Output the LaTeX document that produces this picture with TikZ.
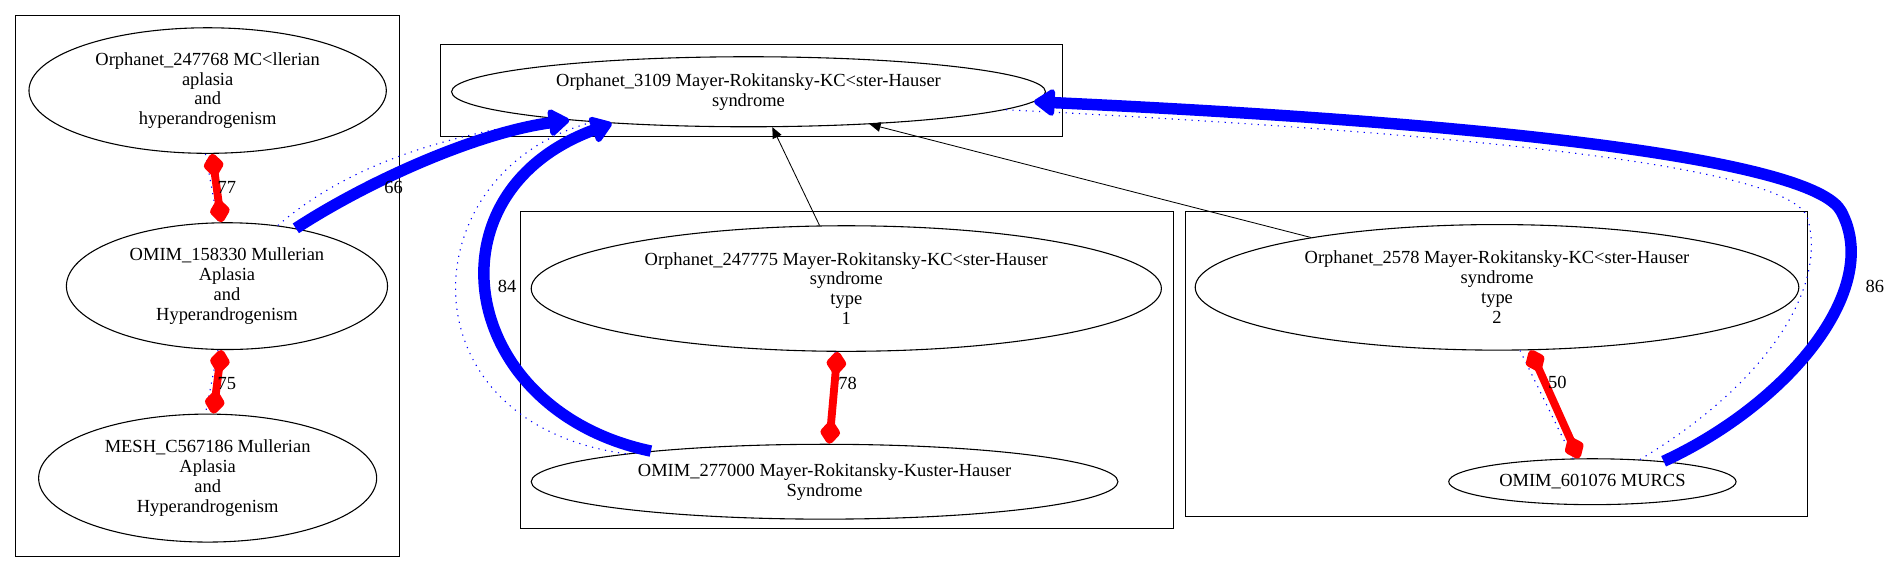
\documentclass[tikz,border=0pt]{standalone}
\usepackage{fontspec}
\setmainfont{Liberation Serif}
\usetikzlibrary{shapes.geometric,arrows.meta}

\begin{document}
\begin{tikzpicture}[x=1pt,y=-1pt,
    term/.style={ellipse, draw, line width=0.9pt, inner sep=0pt, align=center, font=\fontsize{15.3}{16.5}\selectfont},
    lbl/.style={inner sep=1pt, font=\fontsize{15.3}{16.5}\selectfont},
    mapped/.style={red, line width=6.5pt, line join=round, {Diamond[length=23pt,width=18pt,round]}-{Diamond[length=23pt,width=18pt,round]}},
    shared/.style={blue, line width=9.5pt, line join=round, -{Triangle[length=19pt,width=25pt,round]}},
    trace/.style={blue, line width=0.9pt, dash pattern=on 1pt off 4.5pt},
    isa/.style={line width=0.7pt, -{Triangle[length=9pt,width=8pt]}}]
    \useasboundingbox (0,0) rectangle (1568,475);

    % Clusters
    \draw[line width=0.9pt] (13,13) rectangle (331,461);
    \draw[line width=0.9pt] (365,37) rectangle (880,113);
    \draw[line width=0.9pt] (431,175) rectangle (972,438);
    \draw[line width=0.9pt] (982,175) rectangle (1497,428);

    % Terms
    \node[term, minimum width=296, minimum height=104] (orpha247768) at (172,75)
        {Orphanet\_247768 MC<llerian\\aplasia\\and\\hyperandrogenism};
    \node[term, minimum width=266, minimum height=105] (omim158330) at (188,237)
        {OMIM\_158330 Mullerian\\Aplasia\\and\\Hyperandrogenism};
    \node[term, minimum width=280, minimum height=106] (meshC567186) at (172,396)
        {MESH\_C567186 Mullerian\\Aplasia\\and\\Hyperandrogenism};
    \node[term, minimum width=492, minimum height=58] (orpha3109) at (620,76)
        {Orphanet\_3109 Mayer-Rokitansky-KC<ster-Hauser\\syndrome};
    \node[term, minimum width=522, minimum height=104] (orpha247775) at (701,239)
        {Orphanet\_247775 Mayer-Rokitansky-KC<ster-Hauser\\syndrome\\type\\1};
    \node[term, minimum width=486, minimum height=62] (omim277000) at (683,399)
        {OMIM\_277000 Mayer-Rokitansky-Kuster-Hauser\\Syndrome};
    \node[term, minimum width=500, minimum height=104] (orpha2578) at (1240,238)
        {Orphanet\_2578 Mayer-Rokitansky-KC<ster-Hauser\\syndrome\\type\\2};
    \node[term, minimum width=238, minimum height=38] (omim601076) at (1319,399)
        {OMIM\_601076 MURCS};

    % Dotted traces
    \draw[trace] (orpha247768.-92) -- (omim158330.98);
    \draw[trace] (omim158330.-98) -- (meshC567186.92);
    \draw[trace] (orpha247775.-100) -- (omim277000.88);
    \draw[trace] (orpha2578.-70) -- (omim601076.130);
    \draw[trace] (omim158330.50) .. controls (290,135) and (370,112) .. (orpha3109.188);
    \draw[trace] (omim277000.172) .. controls (330,350) and (340,140) .. (orpha3109.191);
    \draw[trace] (omim601076.25) .. controls (1460,320) and (1515,240) .. (1497,180)
        .. controls (1482,140) and (1250,112) .. (orpha3109.-4);

    % Is-a links
    \draw[isa] (orpha247775.113) -- (orpha3109.-56);
    \draw[isa] (orpha2578.165) -- (orpha3109.-15);

    % Mappings
    \draw[mapped] (orpha247768.-86) -- (omim158330.95);
    \draw[mapped] (omim158330.-95) -- (meshC567186.85);
    \draw[mapped] (orpha247775.-98) -- (omim277000.83);
    \draw[mapped] (orpha2578.-62) -- (omim601076.120);

    % Shared links
    \draw[shared] (omim158330.40) .. controls (305,150) and (395,110) .. (orpha3109.189);
    \draw[shared] (omim277000.170) .. controls (380,340) and (350,160) .. (orpha3109.193);
    \draw[shared] (omim601076.16) .. controls (1480,335) and (1560,240) .. (1525,175)
        .. controls (1505,138) and (1300,105) .. (orpha3109.-2);

    % Labels
    \node[lbl] (l77) at (188,155) {77};
    \node[lbl] (l75) at (188,318) {75};
    \node[lbl] (l66) at (326,155) {66};
    \node[lbl] (l84) at (420,237) {84};
    \node[lbl] (l78) at (702,318) {78};
    \node[lbl] (l50) at (1290,317) {50};
    \node[lbl] (l86) at (1553,237) {86};

\end{tikzpicture}
\end{document}
